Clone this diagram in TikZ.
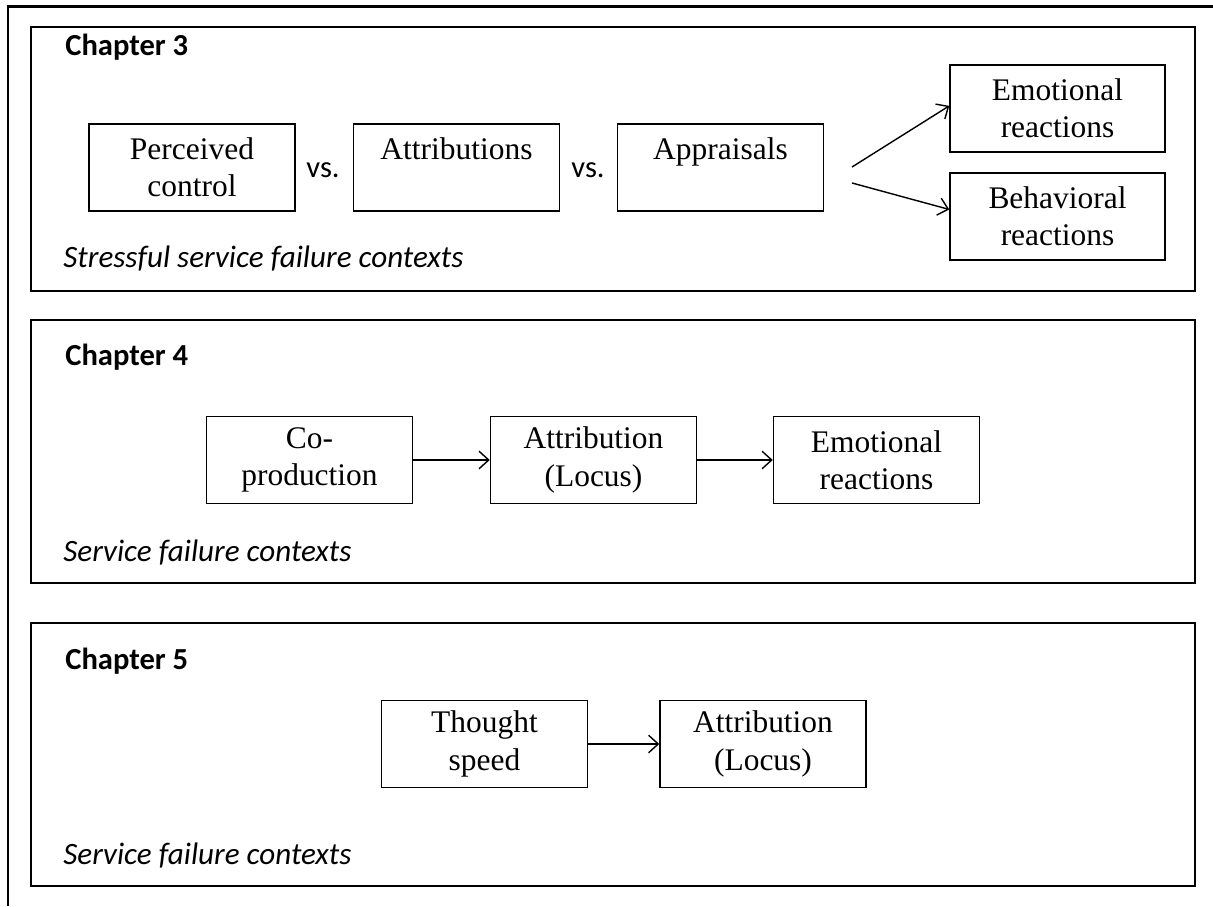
\documentclass[tikz,border=0pt]{standalone}
\usepackage{fontspec}
\setmainfont{Liberation Serif}
\newfontfamily\chapfont{Carlito}
\usetikzlibrary{positioning,arrows.meta}

\begin{document}
\begin{tikzpicture}[
        every node/.style={align=center, inner sep=0pt},
        concept/.style={draw, line width=0.85pt, minimum width=4.12cm, minimum height=1.74cm,
            font=\fontsize{17.9}{21.3}\selectfont},
        wide/.style={concept, minimum width=4.3cm},
        chapter/.style={anchor=west, font=\chapfont\bfseries\fontsize{17.4}{21}\selectfont},
        context/.style={anchor=west, font=\chapfont\itshape\fontsize{17.7}{21}\selectfont},
        versus/.style={font=\chapfont\fontsize{17.4}{21}\selectfont},
        panel/.style={line width=1.5pt},
        link/.style={-{Straight Barb[length=5.5pt,width=10pt]}, line width=0.8pt}]
    \useasboundingbox (0,0) rectangle (24.26,18.12);
    % outer frame (only top and left edges inside the page)
    \draw[line width=1.6pt] (0.16,0) -- (0.16,17.99) -- (24.4,17.99);

    % Chapter 3
    \draw[panel] (0.62,17.58) rectangle (23.9,12.30);
    \node[chapter] (ch3) at (1.3,17.18) {Chapter 3};
    \node[concept] (control) at (3.84,14.77) {Perceived\\control};
    \node[concept] (attribs) at (9.13,14.77) {Attributions\\~};
    \node[concept] (apprais) at (14.41,14.77) {Appraisals\\~};
    \node[versus] (vs1) at (6.46,14.72) {vs.};
    \node[versus] (vs2) at (11.76,14.72) {vs.};
    \node[wide] (emo3) at (21.15,15.95) {Emotional\\reactions};
    \node[wide] (beh3) at (21.15,13.79) {Behavioral\\reactions};
    \coordinate (forkA) at (17.04,14.78);
    \coordinate (forkB) at (17.04,14.46);
    \draw[link] (forkA) -- ([yshift=1.5pt]emo3.west);
    \draw[link] (forkB) -- ([yshift=4pt]beh3.west);
    \node[context] (ctx3) at (1.26,12.94) {Stressful service failure contexts};

    % Chapter 4
    \draw[panel] (0.62,11.72) rectangle (23.9,6.46);
    \node[chapter] (ch4) at (1.3,10.98) {Chapter 4};
    \node[concept] (coprod) at (6.19,8.92) {Co-\\production};
    \node[concept] (locus4) at (11.87,8.92) {Attribution\\(Locus)};
    \node[concept] (emo4) at (17.53,8.92) {Emotional\\reactions};
    \draw[link] (coprod) -- (locus4);
    \draw[link] (locus4) -- (emo4);
    \node[context] (ctx4) at (1.26,7.06) {Service failure contexts};

    % Chapter 5
    \draw[panel] (0.62,5.66) rectangle (23.9,0.40);
    \node[chapter] (ch5) at (1.3,4.9) {Chapter 5};
    \node[concept] (speed) at (9.69,3.24) {Thought\\speed};
    \node[concept] (locus5) at (15.26,3.24) {Attribution\\(Locus)};
    \draw[link] (speed) -- (locus5);
    \node[context] (ctx5) at (1.26,1.0) {Service failure contexts};
\end{tikzpicture}
\end{document}
